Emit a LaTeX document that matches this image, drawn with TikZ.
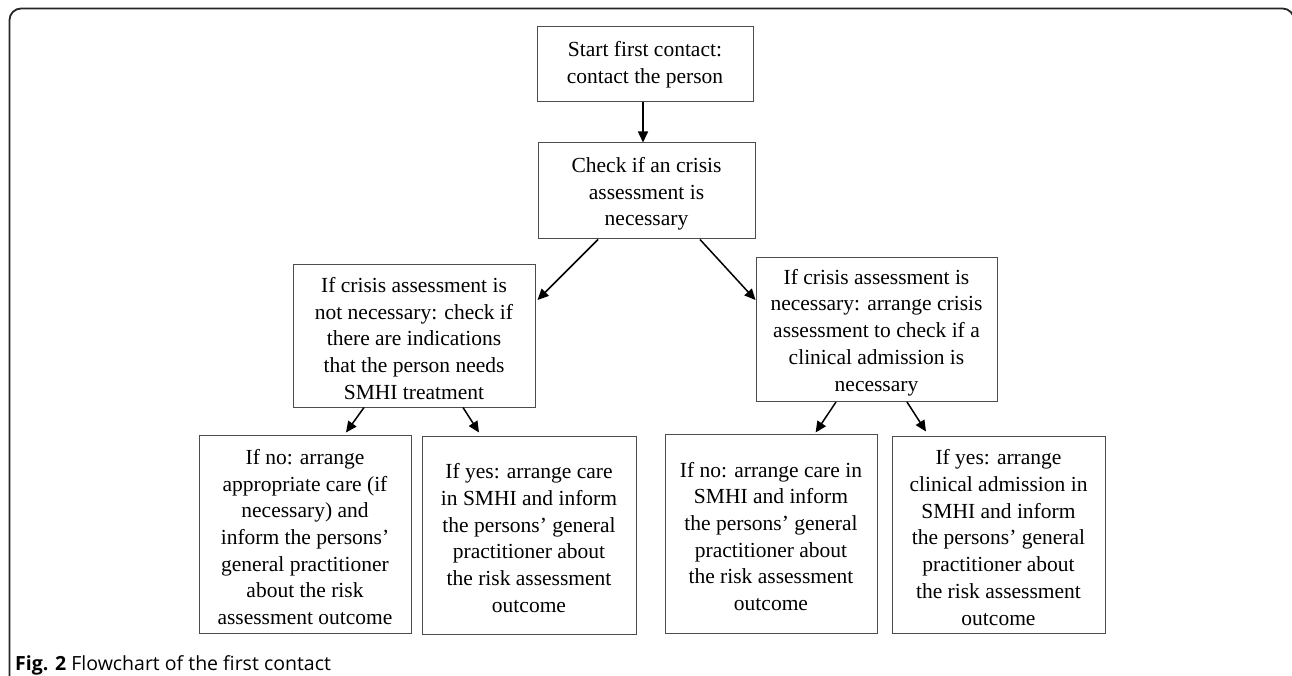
\documentclass[tikz,border=0pt]{standalone}
\usepackage{fontspec}
\setmainfont{Liberation Serif}
\newfontfamily\capfont{Open Sans}
\usetikzlibrary{arrows.meta,calc}
\newcommand{\TopStrut}{\rule{0pt}{21pt}}
\begin{document}
\begin{tikzpicture}[x=1pt,y=-1pt,
  box/.style={draw=black!70,line width=1pt,inner sep=0pt,align=center,
    font=\fontsize{21.5}{26.7}\selectfont},
  arr/.style={line width=1.5pt,-{Triangle[length=11pt,width=10pt]}},
  frame/.style={draw=black!85,line width=1.8pt,rounded corners=11.5pt}]
\path[fill=white] (0,0) rectangle (1292,676);
\useasboundingbox (0,0) rectangle (1292,676);
\begin{scope}
\clip (0,0) rectangle (1292,676);
\draw[frame] (9.5,690) -- (9.5,8.5) -- (1294,8.5) -- (1294,690);
\end{scope}
\node[box,minimum width=216,minimum height=75] (b1) at (645,64.5) {Start first contact:\\contact the person};
\node[box,minimum width=217,minimum height=96] (b2) at (646.5,191) {\TopStrut Check if an crisis\\assessment is\\necessary};
\node[box,minimum width=242,minimum height=143] (b3) at (414,335.5) {\TopStrut If crisis assessment is\\not necessary: check if\\there are indications\\that the person needs\\SMHI treatment};
\node[box,minimum width=241,minimum height=144] (b4) at (876.5,329.5) {\TopStrut If crisis assessment is\\necessary: arrange crisis\\assessment to check if a\\clinical admission is\\necessary};
\node[box,minimum width=212,minimum height=198] (b5) at (305,534) {\TopStrut If no: arrange\\appropriate care (if\\necessary) and\\inform the persons’\\general practitioner\\about the risk\\assessment outcome};
\node[box,minimum width=214,minimum height=198] (b6) at (529,535) {\TopStrut If yes: arrange care\\in SMHI and inform\\the persons’ general\\practitioner about\\the risk assessment\\outcome};
\node[box,minimum width=212,minimum height=199] (b7) at (771,533.5) {\TopStrut If no: arrange care in\\SMHI and inform\\the persons’ general\\practitioner about\\the risk assessment\\outcome};
\node[box,minimum width=213,minimum height=197] (b8) at (998.5,534.5) {\TopStrut If yes: arrange\\clinical admission in\\SMHI and inform\\the persons’ general\\practitioner about\\the risk assessment\\outcome};
\draw[arr] ([xshift=-2pt]b1.south) -- ([xshift=-2pt]b1.south |- b2.north);
\draw[arr] ([xshift=-48.5pt]b2.south) -- ([yshift=35.5pt,xshift=2pt]b3.east);
\draw[arr] ([xshift=53.5pt]b2.south) -- ([yshift=29.5pt]b4.west);
\draw[arr] ([xshift=-50pt]b3.south) -- ([xshift=41pt,yshift=2pt]b5.north);
\draw[arr] ([xshift=49pt]b3.south) -- ([xshift=-50pt,yshift=3pt]b6.north);
\draw[arr] ([xshift=-40.5pt]b4.south) -- ([xshift=44.6pt,yshift=1pt]b7.north);
\draw[arr] ([xshift=30.5pt]b4.south) -- ([xshift=-72.5pt,yshift=4pt]b8.north);
\node[anchor=base west,inner sep=0pt,font=\capfont\fontsize{19.5}{22}\selectfont] (cap) at (15,670) {\textbf{Fig. 2} Flowchart of the first contact};
\end{tikzpicture}
\end{document}
